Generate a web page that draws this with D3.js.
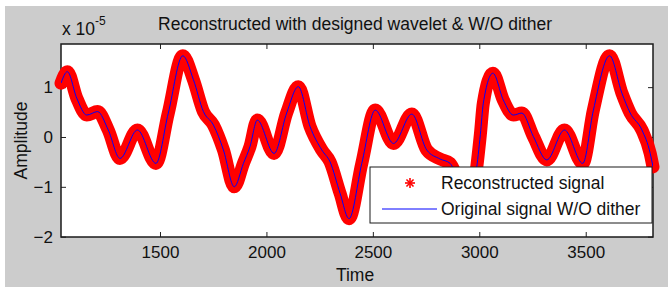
<!DOCTYPE html>
<html>
<head>
<meta charset="utf-8">
<script src="https://cdn.jsdelivr.net/npm/d3@7"></script>
<style>
body { margin: 0; background: #fff; }
text { font-family: "Liberation Sans", Arial, sans-serif; fill: #111; }
</style>
</head>
<body>
<div id="chart"></div>
<script>
// values, amplitude in units of 1e-5
var times = [1035, 1065, 1109, 1156, 1207, 1257, 1312, 1394, 1481, 1539,
  1607, 1657, 1704, 1751, 1798, 1849, 1892, 1923, 1957, 2036,
  2095, 2150, 2205, 2260, 2299, 2346, 2388, 2448, 2511, 2597,
  2683, 2753, 2815, 2863, 2900, 2950, 2985, 3005, 3019, 3064,
  3113, 3160, 3200, 3254, 3317, 3400, 3486, 3536, 3612, 3670,
  3709, 3764, 3803, 3816];
var amps = [1.08, 1.31, 0.78, 0.44, 0.51, 0.14, -0.43, 0.14, -0.53, 0.48,
  1.63, 1.15, 0.51, 0.24, -0.26, -1.0, -0.53, -0.19, 0.34, -0.33,
  0.48, 1.01, 0.21, -0.26, -0.5, -1.13, -1.64, -0.53, 0.54, -0.13,
  0.46, -0.26, -0.44, -0.53, -0.85, -1.25, -0.7, 0.05, 0.68, 1.28,
  0.74, 0.44, 0.48, 0.01, -0.46, 0.14, -0.53, 0.54, 1.63, 0.88,
  0.48, 0.14, -0.33, -0.6];
var xTicks = [1500, 2000, 2500, 3000, 3500];
var yTicks = [-2, -1, 0, 1];
var legendLabels = ["Reconstructed signal", "Original signal W/O dither"];

var svgWidth = 668;
var svgHeight = 287;
var margin = {top: 44, right: 15, bottom: 50, left: 61};
var plotWidth = svgWidth - margin.left - margin.right;
var plotHeight = svgHeight - margin.top - margin.bottom;

var signal = times.map(function(t, i) { return {t: t, v: amps[i]}; });

var svg = d3.select("#chart")
  .append("svg")
  .attr("width", svgWidth)
  .attr("height", svgHeight);

// matlab grey figure
svg.append("rect")
  .attr("x", 5).attr("y", 6)
  .attr("width", svgWidth - 5).attr("height", svgHeight - 6)
  .attr("fill", "#cccccc");

var g = svg.append("g")
  .attr("transform", `translate(${margin.left}, ${margin.top})`);

g.append("rect")
  .attr("width", plotWidth).attr("height", plotHeight)
  .attr("fill", "#fff");

g.append("clipPath").attr("id", "plotclip")
  .append("rect").attr("width", plotWidth).attr("height", plotHeight);

var xScale = d3.scaleLinear().domain([1035, 3816]).range([0, plotWidth]);
var yScale = d3.scaleLinear().domain([-2.007, 1.866]).range([plotHeight, 0]);

var tickFont = "17px";
var fmt = d3.format("d");

var xAxis = g.append("g")
  .attr("transform", `translate(0, ${plotHeight})`)
  .call(d3.axisBottom(xScale).tickValues(xTicks).tickFormat(fmt).tickSizeInner(-5).tickSizeOuter(0).tickPadding(9));
var xTop = g.append("g")
  .call(d3.axisTop(xScale).tickValues(xTicks).tickSizeInner(-5).tickSizeOuter(0).tickFormat(""));
var yAxis = g.append("g")
  .call(d3.axisLeft(yScale).tickValues(yTicks).tickFormat(fmt).tickSizeInner(-5).tickSizeOuter(0).tickPadding(8));
var yRight = g.append("g")
  .attr("transform", `translate(${plotWidth}, 0)`)
  .call(d3.axisRight(yScale).tickValues(yTicks).tickSizeInner(-5).tickSizeOuter(0).tickFormat(""));

[xAxis, xTop, yAxis, yRight].forEach(function(a) {
  a.select(".domain").remove();
  a.selectAll("line").attr("stroke", "#222");
  a.selectAll("text")
    .style("font-family", '"Liberation Sans", Arial, sans-serif')
    .style("font-size", tickFont)
    .attr("fill", "#111");
});

var line = d3.line()
  .x(d => xScale(d.t))
  .y(d => yScale(d.v))
  .curve(d3.curveMonotoneX);

// box
g.append("rect")
  .attr("width", plotWidth).attr("height", plotHeight)
  .attr("fill", "none")
  .attr("stroke", "#1a1a1a")
  .attr("stroke-width", 1.5);

// reconstructed: dense red asterisks, drawn as a thick band (not clipped)
g.append("path")
  .datum(signal)
  .attr("d", line)
  .attr("fill", "none")
  .attr("stroke", "#ff0000")
  .attr("stroke-width", 13)
  .attr("stroke-linejoin", "round")
  .attr("stroke-linecap", "round");

// original signal
g.append("path")
  .datum(signal)
  .attr("d", line)
  .attr("clip-path", "url(#plotclip)")
  .attr("fill", "none")
  .attr("stroke", "#0000ff")
  .attr("stroke-width", 1);

// exponent
svg.append("text")
  .attr("x", 62).attr("y", 35)
  .style("font-size", "17.5px")
  .text("x 10");
svg.append("text")
  .attr("x", 95).attr("y", 25)
  .style("font-size", "12px")
  .text("-5");

svg.append("text")
  .attr("x", 355).attr("y", 30)
  .attr("text-anchor", "middle")
  .style("font-size", "17.5px")
  .text("Reconstructed with designed wavelet & W/O dither");

svg.append("text")
  .attr("x", 355).attr("y", 281)
  .attr("text-anchor", "middle")
  .style("font-size", "17.5px")
  .text("Time");

svg.append("text")
  .attr("transform", `translate(27, ${margin.top + plotHeight / 2}) rotate(-90)`)
  .attr("text-anchor", "middle")
  .style("font-size", "17.5px")
  .text("Amplitude");

// legend
var legend = svg.append("g").attr("transform", "translate(370, 167)");
legend.append("rect")
  .attr("width", 282).attr("height", 56)
  .attr("fill", "#fff")
  .attr("stroke", "#1a1a1a")
  .attr("stroke-width", 1);

// matlab '*' marker: four strokes through the centre
var armAngles = [0, 45, 90, 135];
legend.append("g").attr("transform", "translate(40, 16)")
  .selectAll("line")
  .data(armAngles)
  .enter()
  .append("line")
  .attr("x1", d => -5 * Math.cos(d * Math.PI / 180))
  .attr("y1", d => -5 * Math.sin(d * Math.PI / 180))
  .attr("x2", d => 5 * Math.cos(d * Math.PI / 180))
  .attr("y2", d => 5 * Math.sin(d * Math.PI / 180))
  .attr("stroke", "#ff0000")
  .attr("stroke-width", 1.6);

legend.append("line")
  .attr("x1", 12).attr("x2", 67)
  .attr("y1", 42).attr("y2", 42)
  .attr("stroke", "#0000ff").attr("stroke-width", 1);

legend.selectAll("text.lab")
  .data(legendLabels)
  .enter()
  .append("text")
  .attr("class", "lab")
  .attr("x", 71)
  .attr("y", (d, i) => 22 + i * 26)
  .style("font-size", "17.5px")
  .text(d => d);
</script>
</body>
</html>
